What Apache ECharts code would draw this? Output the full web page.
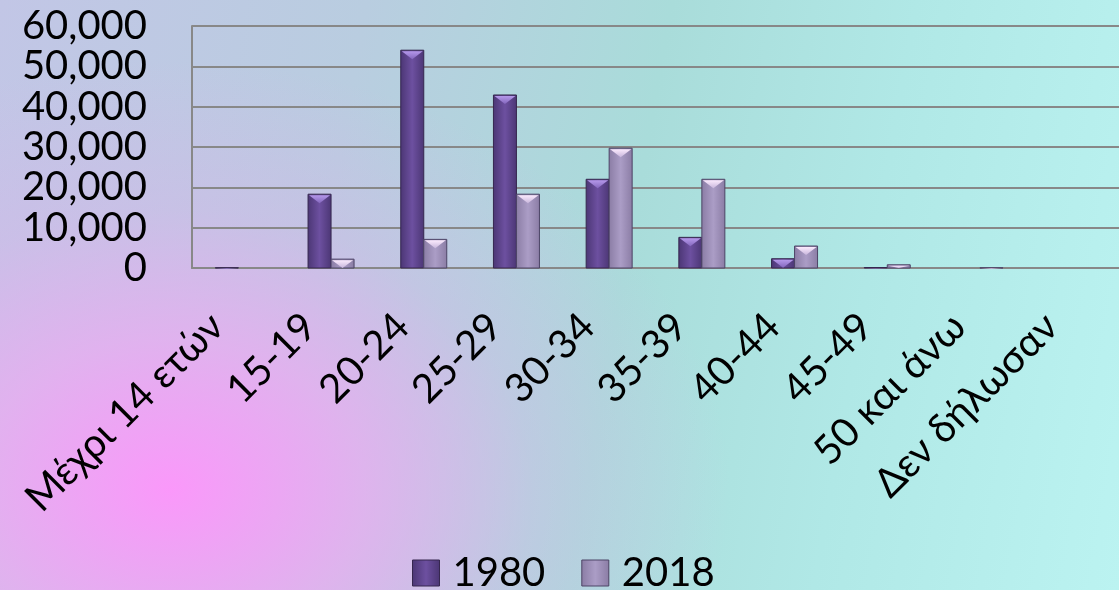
<!DOCTYPE html>
<html>
<head>
<meta charset="utf-8">
<script src="https://cdn.jsdelivr.net/npm/echarts@6/dist/echarts.min.js"></script>
<style>
  html, body {
    margin: 0;
    padding: 0;
  }
  #chart {
    width: 1119px;
    height: 590px;
    background:
      radial-gradient(ellipse 560px 430px at 170px 490px, rgba(250,152,250,1) 0%, rgba(236,170,242,0.75) 35%, rgba(220,176,236,0.35) 65%, rgba(210,180,235,0) 100%),
      linear-gradient(100deg, #c2c6e6 0%, #b9cde0 30%, #a9dcda 55%, #b0e8e6 75%, #bbf3f1 100%);
  }
</style>
</head>
<body>
<div id="chart"></div>
<script>
// ηλικιακές ομάδες
const categories = ["Μέχρι 14 ετών", "15-19", "20-24", "25-29", "30-34", "35-39", "40-44", "45-49", "50 και άνω", "Δεν δήλωσαν"]
const values1980 = [60, 18300, 54000, 42900, 22000, 7600, 2300, 120, 0, 0]
const values2018 = [0, 2200, 7100, 18300, 29700, 22000, 5450, 800, 40, 0]
const yTicks = [0, 10000, 20000, 30000, 40000, 50000, 60000]

const FONT = "Lato, 'Noto Sans', sans-serif"
const BAR_W = 23

const chart = echarts.init(document.getElementById("chart"))

function hGrad (edge, mid) {
  return new echarts.graphic.LinearGradient(0, 0, 1, 0, [
    { offset: 0, color: edge },
    { offset: 0.5, color: mid },
    { offset: 1, color: edge }
  ])
}

// ραβδος με "bevel" στην κορυφή
function bevelBar (side, look) {
  return (params, api) => {
    const val = api.value(1)
    if (!val) {
      return null
    }
    const top = api.coord([api.value(0), val])
    const base = api.coord([api.value(0), 0])
    const x = side < 0 ? top[0] - BAR_W : top[0]
    const h = base[1] - top[1]
    const bev = Math.min(9, h)
    return {
      type: "group",
      children: [
        {
          type: "rect",
          shape: { x: x, y: top[1], width: BAR_W, height: h },
          style: {
            fill: hGrad(look.edge, look.mid),
            stroke: look.stroke,
            lineWidth: 1
          }
        },
        {
          type: "polygon",
          shape: {
            points: [[x + 1, top[1] + 1], [x + BAR_W - 1, top[1] + 1], [x + BAR_W / 2, top[1] + bev]]
          },
          style: {
            fill: new echarts.graphic.LinearGradient(0, 0, 0, 1, [
              { offset: 0, color: look.capTop },
              { offset: 1, color: look.capBottom }
            ])
          }
        }
      ]
    }
  }
}

const look1980 = { edge: "#4b3674", mid: "#6d50a0", stroke: "#36274f", capTop: "#b598ea", capBottom: "#8467bd" }
const look2018 = { edge: "#8a7ca4", mid: "#ab9dc6", stroke: "#4d4466", capTop: "#fbeafd", capBottom: "#c8b6dc" }

const option = {
  animation: false,
  textStyle: {
    fontFamily: FONT,
    color: "#000"
  },
  legend: {
    left: 412,
    top: 553,
    padding: 0,
    itemWidth: 27,
    itemHeight: 26,
    itemGap: 36,
    icon: "rect",
    textStyle: {
      fontFamily: FONT,
      fontSize: 40,
      color: "#000",
      padding: [0, 0, 0, 8]
    },
    data: [
      { name: "1980", itemStyle: { color: hGrad(look1980.edge, look1980.mid), borderColor: look1980.stroke, borderWidth: 1 } },
      { name: "2018", itemStyle: { color: hGrad(look2018.edge, look2018.mid), borderColor: look2018.stroke, borderWidth: 1 } }
    ]
  },
  grid: {
    left: 192,
    top: 26,
    width: 940,
    bottom: 322
  },
  xAxis: {
    type: "category",
    data: categories,
    axisLine: {
      lineStyle: { color: "#888", width: 2 }
    },
    axisTick: { show: false },
    axisLabel: {
      interval: 0,
      rotate: 45,
      margin: 31,
      fontSize: 40,
      fontFamily: FONT,
      color: "#000",
      padding: [0, 30, 0, 0]
    }
  },
  yAxis: {
    type: "value",
    min: yTicks[0],
    max: yTicks[yTicks.length - 1],
    interval: yTicks[1] - yTicks[0],
    axisLine: {
      show: true,
      lineStyle: { color: "#888", width: 2 }
    },
    splitLine: {
      lineStyle: { color: "#888", width: 2 }
    },
    axisLabel: {
      margin: 45,
      fontSize: 40,
      fontFamily: FONT,
      color: "#000",
      showMinLabel: true,
      showMaxLabel: true,
      hideOverlap: false,
      formatter: (v) => v.toLocaleString("en-US")
    }
  },
  series: [
    {
      name: "1980",
      type: "custom",
      data: values1980.map((v, i) => [i, v]),
      encode: { x: 0, y: 1 },
      itemStyle: { color: look1980.mid },
      renderItem: bevelBar(-1, look1980)
    },
    {
      name: "2018",
      type: "custom",
      data: values2018.map((v, i) => [i, v]),
      encode: { x: 0, y: 1 },
      itemStyle: { color: look2018.mid },
      renderItem: bevelBar(1, look2018)
    }
  ]
}

chart.setOption(option)
</script>
</body>
</html>
